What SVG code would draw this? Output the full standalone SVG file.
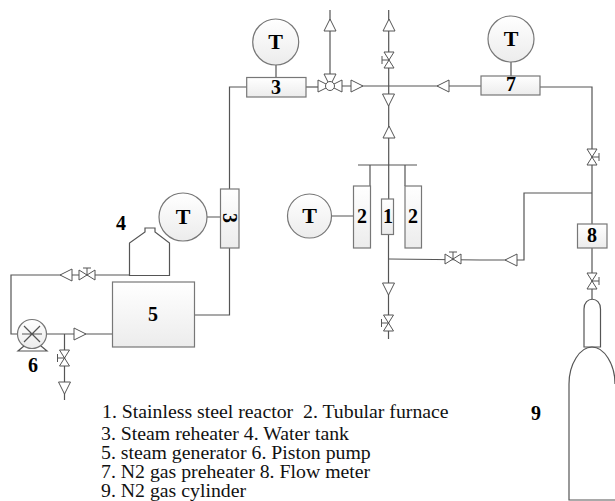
<svg xmlns="http://www.w3.org/2000/svg" width="615" height="501" viewBox="0 0 615 501">
<defs>
<linearGradient id="g" x1="0" y1="0" x2="0" y2="1"><stop offset="0" stop-color="#ffffff"/><stop offset="1" stop-color="#ececec"/></linearGradient>
<g id="arrow"><path class="sym" d="M6 0L-6 -6V6Z"/></g>
<g id="valve"><path class="sym" d="M-8 -5L0 0L-8 5ZM8 -5L0 0L8 5ZM0 0V-7M-4 -7H4"/></g>
</defs>
<style>
.l{fill:none;stroke:#555;stroke-width:1.2}
.sym{fill:#fff;stroke:#555;stroke-width:1}
.b{fill:url(#g);stroke:#777;stroke-width:1.2}
.n{font-family:"Liberation Serif",serif;font-weight:bold;fill:#000;text-anchor:middle}
.t{font-family:"Liberation Serif",serif;font-size:19.8px;fill:#111}
</style>
<g id="connectors">
<path class="l" d="M229.500 248V315H194.500"/>
<path class="l" d="M229.500 189V87H247"/>
<path class="l" d="M306 87H322"/>
<path class="l" d="M330 80V10"/>
<path class="l" d="M338 86H481"/>
<path class="l" d="M388.700 10V199"/>
<path class="l" d="M540 87H592V224"/>
<path class="l" d="M592 193H524V260H480"/>
<path class="l" d="M388.500 234V339"/>
<path class="l" d="M389 259L480 260"/>
<path class="l" d="M358 165H417M370 165V186M405 165V186"/>
<path class="l" d="M276 64V78M511 62V76M220 217H207M332 216H354"/>
<path class="l" d="M592 248V299"/>
<path class="l" d="M130 275H11V334H18"/>
<path class="l" d="M47 334H112M64.500 334V400"/>
<use href="#arrow" transform="translate(330 25) rotate(-90)"/>
<use href="#arrow" transform="translate(389 25) rotate(-90)"/>
<use href="#arrow" transform="translate(388.500 100) rotate(90)"/>
<use href="#arrow" transform="translate(389 132) rotate(-90)"/>
<use href="#arrow" transform="translate(357 86)"/>
<use href="#arrow" transform="translate(443 86) rotate(180)"/>
<use href="#arrow" transform="translate(511 260) rotate(180)"/>
<use href="#arrow" transform="translate(388.500 289) rotate(90)"/>
<use href="#arrow" transform="translate(66 275) rotate(180)"/>
<use href="#arrow" transform="translate(80 334)"/>
<use href="#arrow" transform="translate(64.500 388) rotate(90)"/>
<use href="#valve" transform="translate(389 60) rotate(-90)"/>
<use href="#valve" transform="translate(592 157) rotate(90)"/>
<use href="#valve" transform="translate(453 259)"/>
<use href="#valve" transform="translate(388.500 323) rotate(-90)"/>
<use href="#valve" transform="translate(87 275)"/>
<use href="#valve" transform="translate(64.500 358) rotate(-90)"/>
<use href="#valve" transform="translate(592 281) rotate(90)"/>
<g id="three-way"><path class="sym" d="M318 80L330 86L318 92ZM342 80L330 86L342 92ZM324 74H336L330 86Z"/><circle class="sym" cx="330" cy="86" r="4.500"/></g>
</g>
<g id="t1"><circle class="b" cx="275.700" cy="42" r="23"/><text class="n" x="275.700" y="49" font-size="22">T</text></g>
<g id="t2"><circle class="b" cx="511" cy="39" r="23"/><text class="n" x="511" y="46" font-size="22">T</text></g>
<g id="t3"><circle class="b" cx="183" cy="217" r="24"/><text class="n" x="183" y="224" font-size="22">T</text></g>
<g id="t4"><circle class="b" cx="309.500" cy="216" r="22"/><text class="n" x="309.500" y="223" font-size="22">T</text></g>
<g id="reheater-h"><rect class="b" x="246.700" y="77.500" width="59.300" height="19.500"/><text class="n" x="276" y="94" font-size="20">3</text></g>
<g id="reheater-v"><rect class="b" x="220.500" y="189" width="18.500" height="59"/><text class="n" font-size="20" transform="translate(223 218) rotate(90)">3</text></g>
<g id="preheater"><rect class="b" x="481" y="76" width="59" height="19"/><text class="n" x="511" y="91" font-size="20">7</text></g>
<g id="furnace-l"><rect class="b" x="353.500" y="186" width="17" height="62"/><text class="n" x="362" y="223" font-size="20">2</text></g>
<g id="furnace-r"><rect class="b" x="405" y="186" width="16.500" height="62"/><text class="n" x="413" y="223" font-size="20">2</text></g>
<g id="reactor"><rect class="b" x="381.500" y="199" width="12" height="35.500"/><text class="n" x="388" y="223" font-size="20">1</text></g>
<g id="meter"><rect class="b" x="577.500" y="224" width="29.500" height="24"/><text class="n" x="592" y="242" font-size="20">8</text></g>
<g id="generator"><rect class="b" x="112.500" y="282" width="82" height="65"/><text class="n" x="153" y="321" font-size="20">5</text></g>
<g id="tank"><path class="l" d="M129.500 275.500V243L145 232V228H155V232L169.500 243V275.500Z"/></g>
<g id="pump"><circle class="b" cx="32" cy="334" r="14.500"/><path class="l" d="M24 326L40 342M40 326L24 342M22 334H42M24 346L18 351H47L41 346"/></g>
<g id="cylinder"><path class="l" d="M584 347V309C584 296 600.500 296 600.500 309V347Z"/><path class="l" d="M615 384C615 364 604 347 592 347C580 347 569 364 569 384V500H615"/></g>
<g id="labels">
<text class="n" x="121" y="230" font-size="20">4</text>
<text class="n" x="33" y="372" font-size="20">6</text>
<text class="n" x="536" y="420" font-size="20">9</text>
<text class="t" x="102" y="418" xml:space="preserve">1. Stainless steel reactor  2. Tubular furnace</text>
<text class="t" x="101" y="440">3. Steam reheater 4. Water tank</text>
<text class="t" x="101" y="459">5. steam generator 6. Piston pump</text>
<text class="t" x="101" y="478">7. N2 gas preheater 8. Flow meter</text>
<text class="t" x="101" y="496.500">9. N2 gas cylinder</text>
</g>
</svg>
